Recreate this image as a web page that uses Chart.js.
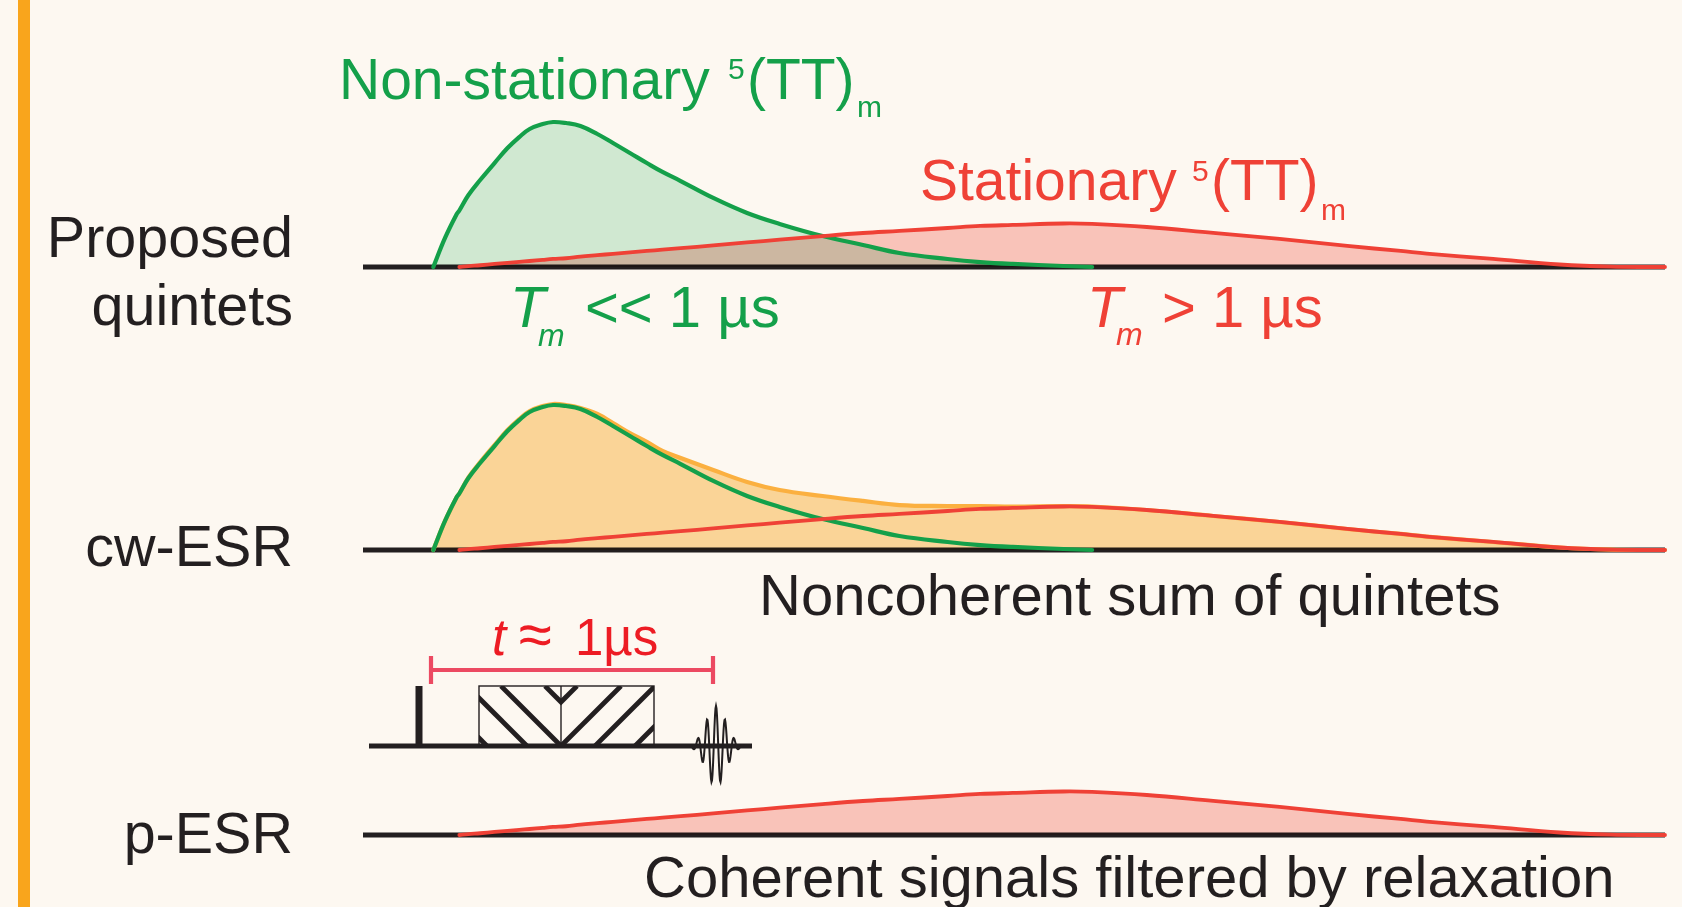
<!DOCTYPE html>
<html>
<head>
<meta charset="utf-8">
<script src="https://cdn.jsdelivr.net/npm/chart.js@4.4.1/dist/chart.umd.min.js"></script>
<style>
  html, body { margin: 0; padding: 0; background: #fdf8f1; }
  canvas { display: block; }
</style>
</head>
<body>
<canvas id="viz" width="1682" height="907"></canvas>
<script>
// field axis, arbitrary units (0 = left end of the baseline, 100 = right end)
var field = [5.4, 6.3, 7.2, 7.4, 8.1, 9.0, 10.1, 11.1, 12.0, 12.8, 13.8, 14.6, 15.6, 16.7, 18.0, 19.2,
             20.5, 21.8, 23.0, 24.4, 26.9, 29.5, 32.0, 35.3, 38.4, 41.2, 44.9, 47.4, 49.9, 53.8, 56.0,
             60.2, 65.3, 70.4, 75.6, 79.7, 81.7, 86.8, 91.9, 95.8, 100];

// intensities, a.u. (non-stationary peak ~ 100)
var nonStationary = [0, 19.9, 36.3, 38.7, 49.3, 59.6, 71.2, 81.5, 89.0, 94.5, 97.9, 99.3, 98.6, 96.6, 91.1, 84.9,
                     78.1, 71.2, 65.1, 58.9, 47.3, 37.0, 29.5, 21.2, 15.1, 9.6, 5.5, 3.4, 2.1, 0.7, 0,
                     null, null, null, null, null, null, null, null, null, null];
var stationary = [null, null, null, 0, 0.6, 1.2, 2.1, 2.8, 3.5, 4.1, 4.9, 5.5, 6.0, 7.1, 8.1, 9.0,
                  10.0, 11.0, 11.9, 12.9, 14.8, 16.8, 18.7, 21.2, 23.3, 24.7, 26.7, 28.1, 28.8, 29.8, 29.5,
                  27.4, 23.3, 19.2, 14.4, 11.0, 9.2, 5.5, 1.7, 0.2, 0];
// cw-ESR envelope (noncoherent sum)
var cwSum = [0, 19.9, 36.3, 38.7, 49.8, 60.2, 71.9, 82.2, 89.7, 95.2, 98.6, 100, 99.3, 97.3, 93.2, 87.0,
             80.1, 74.0, 67.8, 63.0, 54.8, 46.6, 41.1, 37.0, 33.6, 30.8, 30.1, 30.1, 29.8, 30.1, 29.8,
             27.4, 23.3, 19.2, 14.4, 11.0, 9.2, 5.5, 1.7, 0.2, 0];
// p-ESR only sees the stationary quintet
var pESR = stationary;

// layout (pixels)
var W = 1682, H = 907;
var BASE_L = 363, BASE_R = 1665;
var PX_PER_AU = 1.46;
var panelBase = { y1: 267, y2: 550, y3: 835 };

var BG = '#fdf8f1', INK = '#231f20', BAR = '#f9a51c';
var GREEN = '#14a04a', GREEN_FILL = '#d2efdd';
var RED = '#ef4136', RED_FILL = '#fbc9c4';
var ORANGE = '#fbb040', ORANGE_FILL = '#fcdaa0';
var PINK = '#ec4a62', TRED = '#ed1c24';
var FONT = '"Liberation Sans", Arial, Helvetica, sans-serif';

function pts(arr) {
  return field.map(function(f, i) { return { x: f, y: arr[i] }; });
}

var xUnit = (BASE_R - BASE_L) / 100;
var xMin = -BASE_L / xUnit;
var xMax = xMin + W / xUnit;

function yAxis(base) {
  return { type: 'linear', display: false, bounds: 'data', grace: 0,
           min: -(H - base) / PX_PER_AU, max: base / PX_PER_AU };
}

function txt(ctx, s, x, y, size, color, opts) {
  opts = opts || {};
  ctx.font = (opts.italic ? 'italic ' : '') + size + 'px ' + FONT;
  ctx.fillStyle = color;
  ctx.textAlign = opts.align || 'left';
  ctx.textBaseline = 'alphabetic';
  ctx.fillText(s, x, y);
}

function drawPulse(ctx) {
  ctx.save();
  ctx.strokeStyle = INK;
  ctx.lineCap = 'butt';
  // time line
  ctx.lineWidth = 4.8;
  ctx.beginPath(); ctx.moveTo(369, 746); ctx.lineTo(752, 746); ctx.stroke();
  // short pulse
  ctx.lineWidth = 7;
  ctx.beginPath(); ctx.moveTo(419, 686); ctx.lineTo(419, 746); ctx.stroke();
  // chirp box, hatched
  var bx0 = 479, bx1 = 654, by0 = 686, by1 = 746, mid = 561;
  ctx.lineWidth = 4.8;
  ctx.save();
  ctx.beginPath(); ctx.rect(bx0, by0, mid - bx0, by1 - by0); ctx.clip();
  [427, 467, 501, 545].forEach(function(c) {
    ctx.beginPath(); ctx.moveTo(c, by0); ctx.lineTo(c + 60, by1); ctx.stroke();
  });
  ctx.restore();
  ctx.save();
  ctx.beginPath(); ctx.rect(mid, by0, bx1 - mid, by1 - by0); ctx.clip();
  [577, 621, 655, 695].forEach(function(d) {
    ctx.beginPath(); ctx.moveTo(d, by0); ctx.lineTo(d - 60, by1); ctx.stroke();
  });
  ctx.restore();
  ctx.lineWidth = 1.4;
  ctx.strokeRect(bx0, by0, bx1 - bx0, by1 - by0);
  ctx.beginPath(); ctx.moveTo(mid, by0); ctx.lineTo(mid, by1); ctx.stroke();
  // echo
  ctx.lineWidth = 2;
  ctx.beginPath();
  for (var x = 690; x <= 744; x += 0.5) {
    var u = x - 716;
    var y = 746 - 40 * Math.exp(-(u / 14) * (u / 14)) * Math.cos(2 * Math.PI * u / 9);
    if (x === 690) ctx.moveTo(x, y); else ctx.lineTo(x, y);
  }
  ctx.stroke();
  // t bracket
  ctx.strokeStyle = PINK;
  ctx.lineWidth = 3.8;
  ctx.beginPath(); ctx.moveTo(431, 670); ctx.lineTo(713, 670); ctx.stroke();
  ctx.lineWidth = 4.2;
  ctx.beginPath();
  ctx.moveTo(431, 656); ctx.lineTo(431, 684);
  ctx.moveTo(713, 656); ctx.lineTo(713, 684);
  ctx.stroke();
  ctx.restore();
}

function drawLabels(ctx) {
  ctx.save();
  // row labels
  txt(ctx, 'Proposed', 293, 257, 57.5, INK, { align: 'right' });
  txt(ctx, 'quintets', 293, 325, 57.5, INK, { align: 'right' });
  txt(ctx, 'cw-ESR', 293, 566, 57.5, INK, { align: 'right' });
  txt(ctx, 'p-ESR', 293, 853, 57.5, INK, { align: 'right' });

  // curve titles
  txt(ctx, 'Non-stationary', 339, 99, 57, GREEN);
  txt(ctx, '5', 728, 79, 30, GREEN);
  txt(ctx, '(TT)', 747, 99, 57, GREEN);
  txt(ctx, 'm', 857, 117, 30, GREEN);

  txt(ctx, 'Stationary', 920, 200, 57, RED);
  txt(ctx, '5', 1192, 181, 30, RED);
  txt(ctx, '(TT)', 1211, 200, 57, RED);
  txt(ctx, 'm', 1321, 220, 30, RED);

  // relaxation times
  txt(ctx, 'T', 510, 327, 58, GREEN, { italic: true });
  txt(ctx, 'm', 538, 346, 32, GREEN, { italic: true });
  txt(ctx, '<< 1 \u00b5s', 585, 327, 58, GREEN);

  txt(ctx, 'T', 1087, 327, 58, RED, { italic: true });
  txt(ctx, 'm', 1116, 345, 32, RED, { italic: true });
  txt(ctx, '> 1 \u00b5s', 1162, 327, 58, RED);

  // pulse delay
  txt(ctx, 't', 492, 655, 51, TRED, { italic: true });
  txt(ctx, '\u2248', 519, 655, 60, TRED);
  txt(ctx, '1\u00b5s', 575, 655, 51, TRED);

  // captions
  txt(ctx, 'Noncoherent sum of quintets', 759, 615, 58, INK);
  txt(ctx, 'Coherent signals filtered by relaxation', 644, 897, 58, INK);
  ctx.restore();
}

var sketch = {
  id: 'sketch',
  beforeDraw: function(chart) {
    var ctx = chart.ctx;
    ctx.save();
    ctx.fillStyle = BG; ctx.fillRect(0, 0, W, H);
    ctx.fillStyle = BAR; ctx.fillRect(18, 0, 12, H);
    var xs = chart.scales.x;
    ctx.strokeStyle = INK; ctx.lineWidth = 4.8;
    ['y1', 'y2', 'y3'].forEach(function(id) {
      var y = chart.scales[id].getPixelForValue(0);
      ctx.beginPath();
      ctx.moveTo(xs.getPixelForValue(0), y);
      ctx.lineTo(xs.getPixelForValue(100), y);
      ctx.stroke();
    });
    drawPulse(ctx);
    ctx.restore();
    // fills overlap like a multiply layer
    ctx.globalCompositeOperation = 'multiply';
  },
  beforeDatasetsDraw: function(chart) {
    chart.ctx.globalCompositeOperation = 'source-over';
  },
  afterDraw: function(chart) {
    drawLabels(chart.ctx);
  }
};

var common = { pointRadius: 0, tension: 0.4, borderCapStyle: 'round', borderJoinStyle: 'round' };

function ds(o) { return Object.assign({}, common, o); }

new Chart(document.getElementById('viz'), {
  type: 'line',
  data: {
    datasets: [
      // proposed quintets
      ds({ label: 'Stationary', data: pts(stationary), yAxisID: 'y1', borderColor: RED, borderWidth: 3.8,
           backgroundColor: RED_FILL, fill: 'origin', order: 1 }),
      ds({ label: 'Non-stationary', data: pts(nonStationary), yAxisID: 'y1', borderColor: GREEN, borderWidth: 4.2,
           backgroundColor: GREEN_FILL, fill: 'origin', order: 2 }),
      // cw-ESR
      ds({ label: 'Stationary (cw)', data: pts(stationary), yAxisID: 'y2', borderColor: RED, borderWidth: 3.8,
           fill: false, order: 3 }),
      ds({ label: 'Non-stationary (cw)', data: pts(nonStationary), yAxisID: 'y2', borderColor: GREEN, borderWidth: 4.2,
           fill: false, order: 4 }),
      ds({ label: 'Sum', data: pts(cwSum), yAxisID: 'y2', borderColor: ORANGE, borderWidth: 4.2,
           backgroundColor: ORANGE_FILL, fill: 'origin', order: 5 }),
      // p-ESR
      ds({ label: 'p-ESR', data: pts(pESR), yAxisID: 'y3', borderColor: RED, borderWidth: 3.8,
           backgroundColor: RED_FILL, fill: 'origin', order: 6 })
    ]
  },
  options: {
    responsive: false,
    devicePixelRatio: 1,
    animation: false,
    events: [],
    layout: { padding: 0 },
    plugins: {
      legend: { display: false },
      tooltip: { enabled: false },
      filler: { drawTime: 'beforeDatasetsDraw' }
    },
    scales: {
      x: { type: 'linear', display: false, bounds: 'data', min: xMin, max: xMax },
      y1: yAxis(panelBase.y1),
      y2: yAxis(panelBase.y2),
      y3: yAxis(panelBase.y3)
    }
  },
  plugins: [sketch]
});
</script>
</body>
</html>
